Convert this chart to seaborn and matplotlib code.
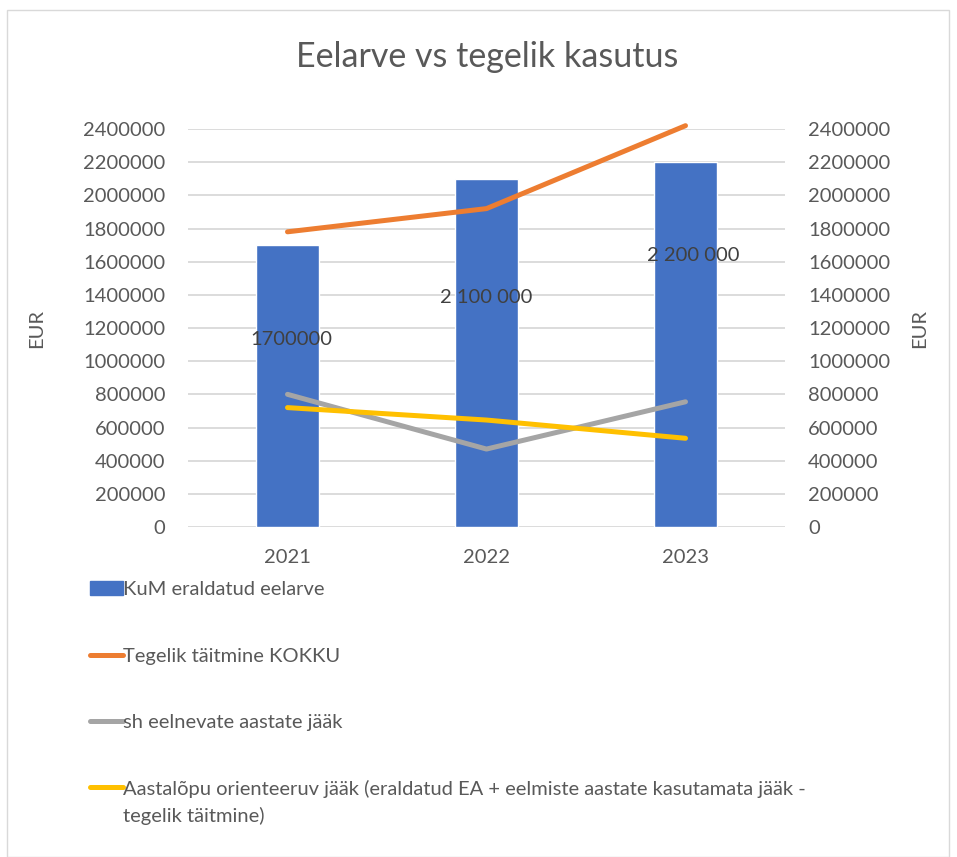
import matplotlib
matplotlib.use("Agg")
import matplotlib.pyplot as plt
import seaborn as sns
import numpy as np
import pandas as pd
from matplotlib.patches import Rectangle
from matplotlib.lines import Line2D

years = ["2021", "2022", "2023"]
budget = [1700000, 2100000, 2200000]
actual_total = [1780000, 1920000, 2420000]
prev_years_rest = [800000, 470000, 755000]
year_end_rest = [720000, 645000, 535000]
bar_labels = ["1700000", "2 100 000", "2 200 000"]
yticks = [0, 200000, 400000, 600000, 800000, 1000000, 1200000, 1400000,
          1600000, 1800000, 2000000, 2200000, 2400000]

series_names = ["KuM eraldatud eelarve", "Tegelik täitmine KOKKU",
                "sh eelnevate aastate jääk",
                "Aastalõpu orienteeruv jääk (eraldatud EA + eelmiste aastate kasutamata jääk -\ntegelik täitmine)"]

sns.set_theme(style="white")
plt.rcParams["font.family"] = ["Lato", "DejaVu Sans"]

TXT = "#595959"
BLUE = "#4472C4"
ORANGE = "#ED7D31"
GRAY = "#A5A5A5"
YELLOW = "#FFC000"

fig = plt.figure(figsize=(9.57, 8.57), dpi=100)
ax = fig.add_axes([188/957, 1-527/857, (785-188)/957, (527-129)/857])

df = pd.DataFrame({"year": years, "budget": budget})
sns.barplot(data=df, x="year", y="budget", color=BLUE, width=0.314,
            saturation=1, ax=ax, zorder=2)

ax2 = ax.twinx()
xpos = np.arange(len(years))
lw = 3.6
for vals, col in [(actual_total, ORANGE), (prev_years_rest, GRAY), (year_end_rest, YELLOW)]:
    sns.lineplot(x=xpos, y=vals, color=col, linewidth=lw, ax=ax2,
                 solid_capstyle="round", zorder=3)
for ln in ax2.lines:
    ln.set_clip_on(False)

for a in (ax, ax2):
    a.set_ylim(0, 2400000)
    a.set_yticks(yticks)
    a.set_yticklabels([str(v) for v in yticks])
    a.set_xlim(-0.5, 2.5)
    for s in a.spines.values():
        s.set_visible(False)
    a.tick_params(axis="both", length=0, labelsize=14.5, colors=TXT)
    a.set_ylabel("EUR", fontsize=14.5, color=TXT)

ax.tick_params(axis="y", pad=16.5)
ax2.tick_params(axis="y", pad=16.5)
ax.tick_params(axis="x", pad=16)
ax.set_xlabel("")
ax.yaxis.set_label_coords(-0.24, 0.5)
ax2.yaxis.set_label_coords(1.211, 0.5)
ax.grid(axis="y", color="#D9D9D9", linewidth=1.3, zorder=0)
ax.set_axisbelow(True)
ax2.grid(False)

# data labels
frac = [0.665, 0.658, 0.745]
dx = [0.02, 0.0, 0.04]
for i, (lab, v) in enumerate(zip(bar_labels, budget)):
    ax.text(i + dx[i], v * frac[i], lab, ha="center", va="center",
            fontsize=14.5, color="#404040", zorder=5)

fig.text(487/957, 1-57/857, "Eelarve vs tegelik kasutus", ha="center",
         va="center", fontsize=24.5, color=TXT)

handles = [Rectangle((0, 0), 1, 1, color=BLUE),
           Line2D([], [], color=ORANGE, linewidth=lw, solid_capstyle="round"),
           Line2D([], [], color=GRAY, linewidth=lw, solid_capstyle="round"),
           Line2D([], [], color=YELLOW, linewidth=lw, solid_capstyle="round")]
leg = fig.legend(handles, series_names, loc="upper left",
                 bbox_to_anchor=(82/957, 1-573/857), frameon=False,
                 fontsize=14.5, labelcolor=TXT, handlelength=1.65,
                 handletextpad=0.0, labelspacing=2.45, borderaxespad=0)
leg.get_texts()[3].set_linespacing(1.55)
yh = leg.legend_handles[3]
yh.set_ydata(np.asarray(yh.get_ydata()) + 11)

fig.patches.append(Rectangle((7/957, 0), (949-7)/957, 1-10/857, transform=fig.transFigure,
                             fill=False, edgecolor="#D9D9D9", linewidth=1))

fig.savefig("out.png", dpi=100)
